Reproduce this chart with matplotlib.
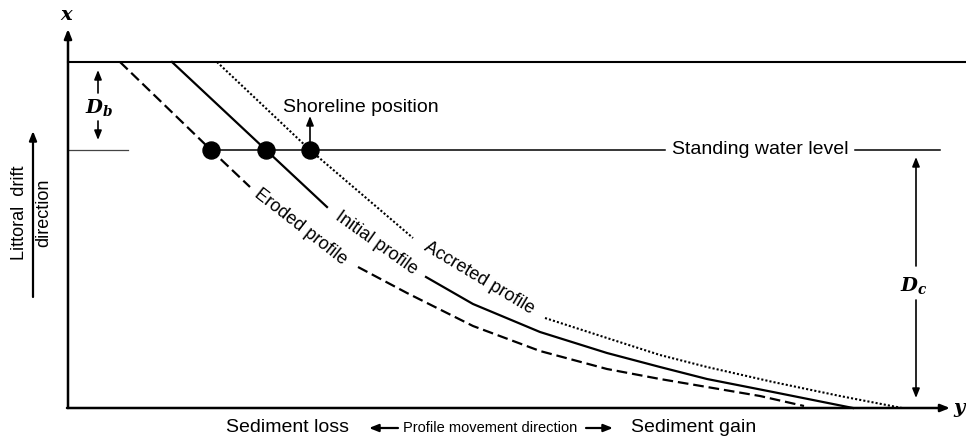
import matplotlib.pyplot as plt

# Profile sketch, in picture units (x to the right, depth downward)
eroded_upper_x = [120, 211, 250]
eroded_upper_d = [62, 150, 187]
eroded_lower_x = [358, 407, 473, 540, 607, 660, 707, 760, 804]
eroded_lower_d = [267, 293, 326, 351, 369, 379, 387, 396, 406]

initial_upper_x = [172, 266, 327]
initial_upper_d = [62, 150, 207]
initial_lower_x = [426, 473, 540, 607, 660, 707, 773, 853]
initial_lower_d = [277, 304, 332, 353, 367, 379, 392, 408]

accreted_upper_x = [217, 310, 413]
accreted_upper_d = [62, 150, 238]
accreted_lower_x = [545, 607, 660, 707, 773, 840, 902]
accreted_lower_d = [318, 338, 355, 367, 382, 396, 408]

shoreline_x = [211, 266, 310]
water_level = 150
berm_level = 62
closure_level = 408

plt.rcParams["font.family"] = ["Liberation Sans", "DejaVu Sans"]
plt.rcParams["mathtext.fontset"] = "custom"
plt.rcParams["mathtext.it"] = "DejaVu Serif:italic:bold"
plt.rcParams["mathtext.rm"] = "DejaVu Serif:bold"

fig = plt.figure(figsize=(9.66, 4.41), dpi=100)
ax = fig.add_axes([0, 0, 1, 1])
ax.set_xlim(0, 966)
ax.set_ylim(441, 0)
ax.axis("off")

k = "black"
fs = 14
head = dict(arrowstyle="-|>,head_width=0.22,head_length=0.55", color=k, lw=1.2, shrinkA=0, shrinkB=0)

# axes with arrows
ax.annotate("", xy=(68, 29), xytext=(68, closure_level), arrowprops=dict(head, lw=1.8))
ax.annotate("", xy=(950, closure_level), xytext=(67, closure_level), arrowprops=dict(head, lw=1.8))
ax.text(67, 16, r"$x$", fontsize=14, ha="center", va="center")
ax.text(960, 410, r"$y$", fontsize=14, ha="center", va="center")

# berm / top line
ax.plot([68, 966], [berm_level, berm_level], color=k, lw=1.5)

# standing water level
ax.plot([68, 128], [water_level, water_level], color="#444444", lw=0.9)
ax.plot([shoreline_x[0], 665], [water_level, water_level], color=k, lw=1.1)
ax.plot([855, 940], [water_level, water_level], color=k, lw=1.1)
ax.text(760, water_level, "Standing water level", fontsize=fs, ha="center", va="center")

# profiles
ls_dash = (0, (4.8, 2.2))
ls_dot = (0, (1, 1))
ax.plot(eroded_upper_x, eroded_upper_d, color=k, lw=1.6, ls=ls_dash)
ax.plot(eroded_lower_x, eroded_lower_d, color=k, lw=1.6, ls=ls_dash)
ax.plot(initial_upper_x, initial_upper_d, color=k, lw=1.6)
ax.plot(initial_lower_x, initial_lower_d, color=k, lw=1.6)
ax.plot(accreted_upper_x, accreted_upper_d, color=k, lw=1.5, ls=ls_dot)
ax.plot(accreted_lower_x, accreted_lower_d, color=k, lw=1.5, ls=ls_dot)

ax.text(301, 227, "Eroded profile", fontsize=13, rotation=-38, ha="center", va="center",
        rotation_mode="anchor")
ax.text(376, 243, "Initial profile", fontsize=13, rotation=-35.5, ha="center", va="center",
        rotation_mode="anchor")
ax.text(479, 278, "Accreted profile", fontsize=13, rotation=-31, ha="center", va="center",
        rotation_mode="anchor")

# shoreline dots
ax.scatter(shoreline_x, [water_level] * 3, s=150, color=k, zorder=5)
ax.annotate("", xy=(shoreline_x[2], 116), xytext=(shoreline_x[2], water_level), arrowprops=head)
ax.text(283, 108, "Shoreline position", fontsize=fs, ha="left", va="center")

# D_b
ax.annotate("", xy=(98, 70), xytext=(98, 93), arrowprops=head)
ax.annotate("", xy=(98, 140), xytext=(98, 121), arrowprops=head)
ax.text(99, 107, r"$D_b$", fontsize=14, ha="center", va="center")

# D_c
ax.annotate("", xy=(916, 157), xytext=(916, 266), arrowprops=head)
ax.annotate("", xy=(916, 398), xytext=(916, 300), arrowprops=head)
ax.text(914, 285, r"$D_c$", fontsize=14, ha="center", va="center")

# littoral drift
ax.annotate("", xy=(33, 131), xytext=(33, 297), arrowprops=dict(head, lw=1.6))
ax.text(20, 213, "Littoral  drift", fontsize=13, rotation=90, ha="center", va="center")
ax.text(44, 213, "direction", fontsize=13, rotation=90, ha="center", va="center")

# bottom legend text
ax.text(288, 428, "Sediment loss", fontsize=fs, ha="center", va="center")
ax.annotate("", xy=(369, 428), xytext=(398, 428), arrowprops=dict(head, lw=1.6))
ax.text(490, 428, "Profile movement direction", fontsize=10.5, ha="center", va="center")
ax.annotate("", xy=(613, 428), xytext=(586, 428), arrowprops=dict(head, lw=1.6))
ax.text(694, 428, "Sediment gain", fontsize=fs, ha="center", va="center")

fig.savefig("out.png", dpi=100)
